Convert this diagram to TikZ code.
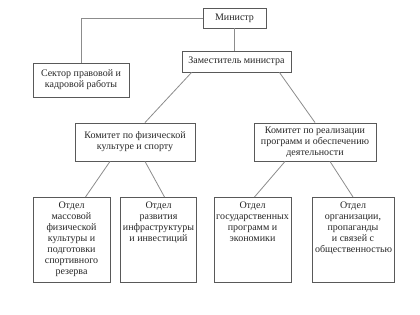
\documentclass[tikz,border=0pt]{standalone}
\usepackage{fontspec}
\setmainfont{Liberation Serif}
\usepackage{tikz}
\usetikzlibrary{positioning}

\begin{document}
\begin{tikzpicture}[x=1pt, y={(0,-1pt)},
    box/.style={draw=black!65, line width=0.9pt, align=center,
                font=\fontsize{10}{11}\selectfont, text=black!85,
                inner sep=0pt},
    dept/.style={draw=black!65, line width=0.9pt, anchor=north,
                 font=\fontsize{10}{11}\selectfont, text=black!85,
                 inner xsep=0pt, inner ysep=4pt, minimum height=85pt,
                 execute at begin node={\begin{minipage}[t][77pt][t]{76pt}\centering},
                 execute at end node={\end{minipage}}},
    link/.style={draw=black!45, line width=0.8pt}
]
    \useasboundingbox (0,0) rectangle (420,315);

    \node[box, minimum width=63pt, minimum height=20pt] (minister) at (234.5,18) {Министр};
    \node[box, minimum width=96pt, minimum height=34pt] (sector) at (81,80)
        {Сектор правовой и\\ кадровой работы};
    \node[box, minimum width=109pt, minimum height=21pt] (deputy) at (236.5,61.5)
        {Заместитель министра};
    \node[box, minimum width=120pt, minimum height=38pt] (komsport) at (135,142)
        {Комитет по физической\\ культуре и спорту};
    \node[box, minimum width=122pt, minimum height=38pt] (komprog) at (315,142)
        {Комитет по реализации\\ программ и обеспечению\\ деятельности};

    \node[dept, minimum width=77pt] (otdmass) at (71.5,197)
        {Отдел\\ массовой\\ физической\\ культуры и\\ подготовки\\ спортивного\\ резерва};
    \node[dept, minimum width=75pt] (otdinfra) at (158.5,197)
        {Отдел\\ развития\\ инфраструктуры\\ и инвестиций};
    \node[dept, minimum width=77pt] (otdgos) at (252.5,197)
        {Отдел\\ государственных\\ программ и\\ экономики};
    \node[dept, minimum width=82pt] (otdorg) at (353,197)
        {Отдел\\ организации,\\ пропаганды\\ и связей с\\ общественностью};

    \draw[link] (minister.west) -| (sector.north);
    \draw[link] (minister.south) -- (minister.south |- deputy.north);
    \draw[link] ([xshift=10pt]deputy.south west) -- ([xshift=10pt]komsport.north);
    \draw[link] ([xshift=-12pt]deputy.south east) -- (komprog.north);
    \draw[link] ([xshift=-25pt]komsport.south) -- ([xshift=14pt]otdmass.north);
    \draw[link] ([xshift=10pt]komsport.south) -- ([xshift=6pt]otdinfra.north);
    \draw[link] ([xshift=-30pt]komprog.south) -- ([xshift=2pt]otdgos.north);
    \draw[link] ([xshift=15pt]komprog.south) -- (otdorg.north);
\end{tikzpicture}
\end{document}
